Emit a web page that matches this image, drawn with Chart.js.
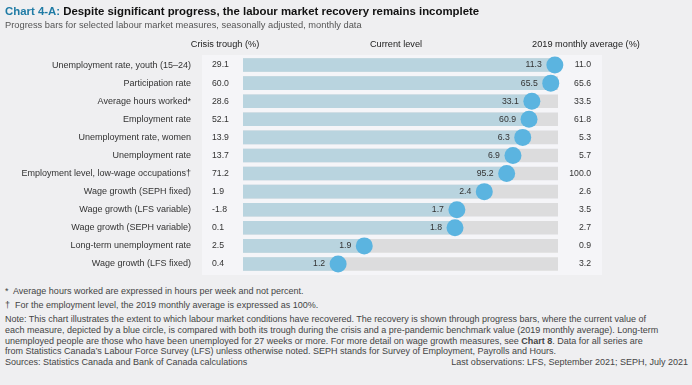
<!DOCTYPE html>
<html><head><meta charset="utf-8">
<script src="https://cdn.jsdelivr.net/npm/chart.js@4"></script>
<style>
html,body{margin:0;padding:0;background:#efeff1;width:692px;height:385px;overflow:hidden;font-family:"Liberation Sans",Arial,sans-serif;}
#wrap{position:relative;width:692px;height:385px;}
#box{position:absolute;left:0;top:0;width:692px;height:282px;}
.t{position:absolute;left:5px;white-space:nowrap;color:#444;font-size:9px;line-height:11px;}
</style></head><body>
<div id="wrap">
<div id="box"><canvas id="c"></canvas></div>
<div class="t" style="top:5px;font-size:11.4px;line-height:13px;font-weight:bold;color:#111"><span style="color:#1f7ba5">Chart 4-A:</span> Despite significant progress, the labour market recovery remains incomplete</div>
<div class="t" style="top:20px;font-size:9.3px;color:#555">Progress bars for selected labour market measures, seasonally adjusted, monthly data</div>
<div class="t" style="top:286px">*&nbsp; Average hours worked are expressed in hours per week and not percent.</div>
<div class="t" style="top:300px">†&nbsp; For the employment level, the 2019 monthly average is expressed as 100%.</div>
<div class="t" style="top:314px">Note: This chart illustrates the extent to which labour market conditions have recovered. The recovery is shown through progress bars, where the current value of</div>
<div class="t" style="top:325px">each measure, depicted by a blue circle, is compared with both its trough during the crisis and a pre-pandemic benchmark value (2019 monthly average). Long-term</div>
<div class="t" style="top:335.5px">unemployed people are those who have been unemployed for 27 weeks or more. For more detail on wage growth measures, see <b>Chart 8</b>. Data for all series are</div>
<div class="t" style="top:346px">from Statistics Canada’s Labour Force Survey (LFS) unless otherwise noted. SEPH stands for Survey of Employment, Payrolls and Hours.</div>
<div class="t" style="top:357px">Sources: Statistics Canada and Bank of Canada calculations</div>
<div class="t" style="top:357px;left:auto;right:4px">Last observations: LFS, September 2021; SEPH, July 2021</div>
</div>
<script>
const categories = [
  "Unemployment rate, youth (15–24)",
  "Participation rate",
  "Average hours worked*",
  "Employment rate",
  "Unemployment rate, women",
  "Unemployment rate",
  "Employment level, low-wage occupations†",
  "Wage growth (SEPH fixed)",
  "Wage growth (LFS variable)",
  "Wage growth (SEPH variable)",
  "Long-term unemployment rate",
  "Wage growth (LFS fixed)"
];
const troughLabels = ["29.1","60.0","28.6","52.1","13.9","13.7","71.2","1.9","-1.8","0.1","2.5","0.4"];
const currentLabels = ["11.3","65.5","33.1","60.9","6.3","6.9","95.2","2.4","1.7","1.8","1.9","1.2"];
const benchmarkLabels = ["11.0","65.6","33.5","61.8","5.3","5.7","100.0","2.6","3.5","2.7","0.9","3.2"];
// share of the recovery completed (read from the position of each circle)
const progress = [0.99,0.977,0.917,0.908,0.888,0.857,0.837,0.766,0.679,0.673,0.385,0.302];
const FULL = 1;
const headers = ["Crisis trough (%)","Current level","2019 monthly average (%)"];

const FONT = '"Liberation Sans", Arial, sans-serif';
const textPlugin = {
  id: 'texts',
  beforeDraw(chart){
    const ctx = chart.ctx;
    ctx.save();
    ctx.fillStyle = '#f5f5f8';
    ctx.fillRect(202,55,400,220);
    ctx.restore();
  },
  afterDatasetsDraw(chart){
    const ctx = chart.ctx, ys = chart.scales.y, xs = chart.scales.x;
    ctx.save();
    ctx.fillStyle = '#222';
    ctx.font = '9.2px ' + FONT;
    ctx.textBaseline = 'middle';
    ctx.textAlign = 'center';
    ctx.fillText(headers[0], 225, 44);
    ctx.fillText(headers[1], 396, 44);
    ctx.fillText(headers[2], 586, 44);
    ctx.font = '8.7px ' + FONT;
    ctx.fillStyle = '#333';
    categories.forEach((c,i)=>{
      const y = ys.getPixelForValue(i);
      ctx.textAlign = 'left';
      ctx.fillText(troughLabels[i], 212, y);
      ctx.textAlign = 'right';
      ctx.fillText(benchmarkLabels[i], 591, y);
      ctx.fillText(currentLabels[i], xs.getPixelForValue(progress[i]) - 13, y);
    });
    ctx.restore();
  }
};

new Chart(document.getElementById('c'), {
  type: 'bar',
  data: {
    labels: categories,
    datasets: [
      { type:'line', indexAxis:'y', data: progress, showLine:false, pointRadius:8.5, pointHoverRadius:8.5,
        pointBackgroundColor:'#5bb4e0', pointBorderWidth:0, clip:false, order:1 },
      { data: progress, backgroundColor:'#b9d4df', barThickness:13, grouped:false, order:2 },
      { data: categories.map(()=>FULL), backgroundColor:'#dcdcdd', barThickness:13, grouped:false, order:3 }
    ]
  },
  options: {
    indexAxis:'y', responsive:true, maintainAspectRatio:false, animation:false, devicePixelRatio:1,
    layout:{ padding:{ top:56, bottom:9, left:0, right:134 } },
    plugins:{ legend:{display:false}, tooltip:{enabled:false} },
    scales:{
      x:{ display:false, min:0, max:1 },
      y:{ grid:{display:false, drawTicks:false}, border:{display:false},
          ticks:{ color:'#333', font:{size:9, family:FONT}, padding:52, autoSkip:false },
          afterFit(s){ s.width = 243; s.paddingTop = 0; s.paddingBottom = 0; } }
    }
  },
  plugins:[textPlugin]
});
</script>
</body></html>
